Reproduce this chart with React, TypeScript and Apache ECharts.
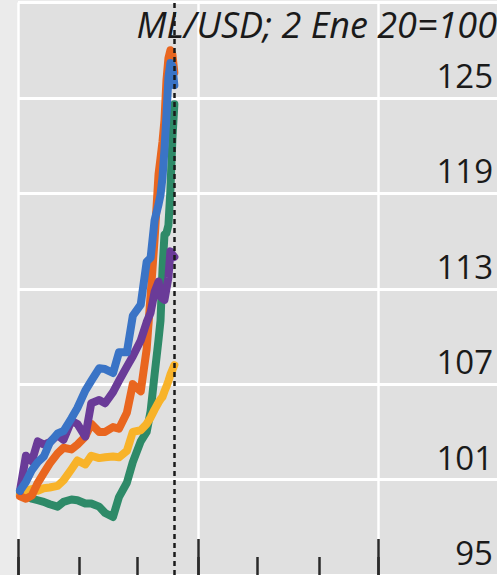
import React, { useEffect, useRef } from "react";
import * as echarts from "echarts";

// Sample dates (calendar days, 2020)
const sampleDates = [
  "2020-01-02", "2020-01-05", "2020-01-08", "2020-01-11", "2020-01-14", "2020-01-17",
  "2020-01-21", "2020-01-24", "2020-01-28", "2020-01-31", "2020-02-04", "2020-02-07",
  "2020-02-11", "2020-02-14", "2020-02-18", "2020-02-21", "2020-02-25", "2020-02-28",
  "2020-03-03", "2020-03-06", "2020-03-08", "2020-03-10", "2020-03-12", "2020-03-13",
  "2020-03-14", "2020-03-15", "2020-03-16", "2020-03-17", "2020-03-18", "2020-03-19",
  "2020-03-20",
];

const greenValues = [
  100.1, 100.0, 99.8, 99.7, 99.6, 99.45, 99.3, 99.6, 99.75, 99.7, 99.5, 99.5,
  99.3, 98.9, 98.65, 99.9, 100.8, 102.1, 103.4, 104.0, 105.3, 107.6, 109.8, 111.0,
  114.2, 116.4, 116.5, 117.0, 119.2, 122.4, 124.6,
];
const yellowValues = [
  100.0, 100.3, 100.4, 100.3, 100.45, 100.5, 100.6, 100.95, 101.65, 102.2, 101.95, 102.5,
  102.35, 102.4, 102.45, 102.4, 102.8, 104.0, 104.1, 104.5, 104.9, 105.4, 105.85, 106.05,
  106.2, 106.55, 106.85, 107.2, 107.6, 107.9, 108.2,
];
const orangeValues = [
  99.95, 99.8, 100.0, 100.8, 101.4, 102.0, 102.65, 103.0, 102.9, 103.2, 103.7, 104.5,
  104.0, 104.0, 104.3, 104.2, 105.2, 107.0, 106.55, 109.2, 112.6, 116.1, 120.2, 121.2,
  122.25, 123.6, 126.1, 127.5, 128.0, 127.75, 126.6,
];
const purpleValues = [
  100.3, 102.5, 102.15, 103.4, 103.2, 103.35, 103.8, 103.5, 104.7, 104.5, 103.7, 105.8,
  106.0, 105.8, 106.5, 107.2, 108.1, 108.75, 109.75, 110.9, 111.5, 112.8, 113.45, 112.5,
  112.4, 112.3, 113.0, 113.7, 115.35, 115.15, 115.0,
];
const blueValues = [
  100.3, 100.85, 101.6, 102.1, 102.45, 103.3, 103.9, 104.05, 104.85, 105.5, 106.6, 107.2,
  108.0, 107.95, 107.7, 109.0, 109.0, 111.3, 112.0, 114.7, 114.95, 117.3, 118.3, 118.9,
  120.0, 121.75, 123.9, 126.3, 127.2, 127.0, 125.8,
];

const yTicks = [95, 101, 107, 113, 119, 125];
const titleText = "ML/USD; 2 Ene 20=100";
const eventDate = "2020-03-20";
const quarterStarts = ["2020-01-01", "2020-04-01", "2020-07-01"];
const monthStarts = [
  "2020-01-01", "2020-02-01", "2020-03-01", "2020-04-01", "2020-05-01", "2020-06-01", "2020-07-01",
];

const axisDays: string[] = [];
for (let i = 0; i < 243; i++) {
  axisDays.push(new Date(Date.UTC(2020, 0, 1 + i)).toISOString().slice(0, 10));
}

const FONT = "'Open Sans', 'Noto Sans', sans-serif";

export default function App() {
  const ref = useRef<HTMLDivElement>(null);
  useEffect(() => {
    if (!ref.current) return;
    const chart = echarts.init(ref.current, undefined, { renderer: "svg" });
    const mk = (name: string, color: string, vals: number[], extra: any = {}) => ({
      name,
      type: "line",
      xAxisIndex: 0,
      yAxisIndex: 0,
      data: sampleDates.map((d, i) => [d, vals[i]]),
      showSymbol: false,
      symbol: "none",
      lineStyle: { color, width: 8, cap: "round", join: "round" },
      itemStyle: { color },
      silent: true,
      ...extra,
    });
    chart.setOption({
      animation: false,
      backgroundColor: "#ebebeb",
      grid: {
        left: 18,
        right: 0,
        top: 2.5,
        bottom: -1.5,
        show: true,
        backgroundColor: "#e0e0e0",
        borderWidth: 0,
      },
      graphic: [
        {
          type: "text",
          right: 0,
          top: 6,
          z: 1,
          style: {
            text: titleText,
            font: `italic 36px ${FONT}`,
            fill: "#1a1a1a",
          },
        },
      ],
      xAxis: [
        {
          type: "category",
          data: axisDays,
          boundaryGap: false,
          position: "bottom",
          axisLine: { show: false },
          axisLabel: { show: false },
          axisTick: {
            show: true,
            inside: true,
            length: 18,
            interval: (_i: number, v: string) => monthStarts.includes(v),
            lineStyle: { color: "#2a2a2a", width: 2.5 },
          },
          splitLine: {
            show: true,
            interval: (_i: number, v: string) => quarterStarts.includes(v),
            lineStyle: { color: "#ffffff", width: 2.5 },
          },
        },
        {
          type: "category",
          data: axisDays,
          boundaryGap: false,
          position: "bottom",
          axisLine: { show: false },
          axisLabel: { show: false },
          axisTick: {
            show: true,
            inside: true,
            length: 36,
            interval: (_i: number, v: string) => quarterStarts.includes(v),
            lineStyle: { color: "#2a2a2a", width: 2.5 },
          },
          splitLine: { show: false },
        },
      ],
      yAxis: {
        type: "value",
        position: "right",
        min: 95,
        max: 131,
        interval: 6,
        axisLine: { show: false },
        axisTick: { show: false },
        axisLabel: {
          inside: true,
          margin: 4,
          fontFamily: FONT,
          fontSize: 33,
          color: "#1a1a1a",
          verticalAlign: "bottom",
          lineHeight: 45,
          formatter: (v: number) => (yTicks.includes(v) ? String(v) : ""),
        },
        splitLine: { show: true, lineStyle: { color: "#ffffff", width: 3 } },
      },
      series: [
        mk("Verde", "#2e8a68", greenValues),
        mk("Amarillo", "#f8b32a", yellowValues),
        mk("Naranja", "#e9661f", orangeValues),
        mk("Morado", "#6a3b98", purpleValues),
        mk("Azul", "#3a74c6", blueValues, {
          markLine: {
            silent: true,
            symbol: "none",
            label: { show: false },
            lineStyle: { color: "#1a1a1a", width: 2.5, type: [5, 4] },
            data: [{ xAxis: eventDate }],
          },
        }),
      ],
    });
    return () => chart.dispose();
  }, []);
  return (
    <div
      ref={ref}
      style={{ position: "absolute", left: 0, top: 0, width: 497, height: 575 }}
    />
  );
}
